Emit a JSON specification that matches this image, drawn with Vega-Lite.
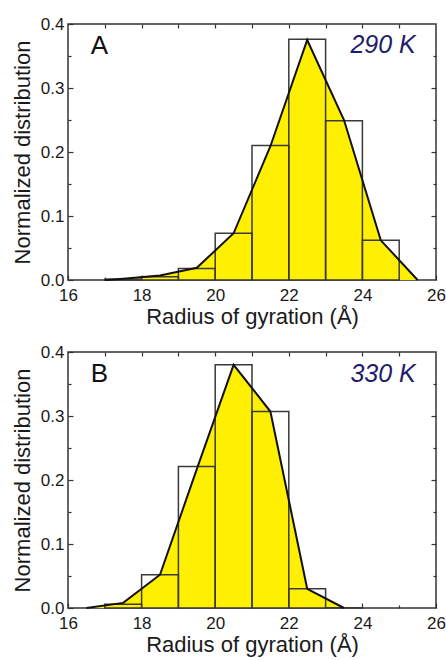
{
  "$schema": "https://vega.github.io/schema/vega-lite/v6.json",
  "padding": {"left": 10, "top": 14, "right": 2, "bottom": 2},
  "background": "white",
  "datasets": {
    "histA": [
      {"x0": 17, "x1": 18, "y": 0.001},
      {"x0": 18, "x1": 19, "y": 0.005},
      {"x0": 19, "x1": 20, "y": 0.018},
      {"x0": 20, "x1": 21, "y": 0.073},
      {"x0": 21, "x1": 22, "y": 0.21},
      {"x0": 22, "x1": 23, "y": 0.376},
      {"x0": 23, "x1": 24, "y": 0.249},
      {"x0": 24, "x1": 25, "y": 0.062}
    ],
    "lineA": [
      {"x": 17, "y": 0},
      {"x": 17.5, "y": 0.002},
      {"x": 18.5, "y": 0.007},
      {"x": 19.5, "y": 0.019},
      {"x": 20.5, "y": 0.073},
      {"x": 21.5, "y": 0.209},
      {"x": 22.5, "y": 0.375},
      {"x": 23.5, "y": 0.25},
      {"x": 24.5, "y": 0.062},
      {"x": 25.5, "y": 0}
    ],
    "histB": [
      {"x0": 17, "x1": 18, "y": 0.006},
      {"x0": 18, "x1": 19, "y": 0.052},
      {"x0": 19, "x1": 20, "y": 0.221},
      {"x0": 20, "x1": 21, "y": 0.38},
      {"x0": 21, "x1": 22, "y": 0.307},
      {"x0": 22, "x1": 23, "y": 0.03},
      {"x0": 23, "x1": 24, "y": 0.0005}
    ],
    "lineB": [
      {"x": 16.5, "y": 0},
      {"x": 17.5, "y": 0.008},
      {"x": 18.5, "y": 0.052},
      {"x": 19.5, "y": 0.217},
      {"x": 20.5, "y": 0.38},
      {"x": 21.5, "y": 0.307},
      {"x": 22.5, "y": 0.03},
      {"x": 23.5, "y": 0}
    ]
  },
  "config": {
    "font": "Liberation Sans",
    "view": {"stroke": "#333333", "strokeWidth": 1.5},
    "axis": {
      "labelFont": "Liberation Sans",
      "labelFontSize": 17,
      "labelColor": "#1a1a1a",
      "labelFlush": false,
      "titleFont": "Liberation Sans",
      "titleFontSize": 22,
      "titleFontWeight": "normal",
      "titleColor": "#1a1a1a",
      "grid": false,
      "domain": false,
      "tickColor": "#333333",
      "tickWidth": 1.2
    }
  },
  "spacing": 14,
  "vconcat": [
    {
      "width": 368,
      "height": 256,
      "resolve": {"axis": {"x": "independent", "y": "independent"}},
      "layer": [
        {
          "data": {"name": "lineA"},
          "mark": {"type": "area", "color": "#FFEF00", "opacity": 1},
          "encoding": {
            "x": {"field": "x", "type": "quantitative", "scale": {"domain": [16, 26], "nice": false},
                  "axis": {"orient": "bottom", "values": [16, 18, 20, 22, 24, 26], "tickSize": -5, "labelPadding": 12, "title": "Radius of gyration (Å)", "titlePadding": 3}},
            "y": {"field": "y", "type": "quantitative", "scale": {"domain": [0, 0.4], "nice": false},
                  "axis": {"orient": "left", "values": [0, 0.1, 0.2, 0.3, 0.4], "format": ".1f", "tickSize": -5, "labelPadding": 9, "title": "Normalized distribution", "titlePadding": 6}}
          }
        },
        {
          "data": {"name": "histA"},
          "mark": {"type": "rect", "filled": false, "color": "#3a3a3a", "strokeWidth": 1.5},
          "encoding": {
            "x": {"field": "x0", "type": "quantitative", "scale": {"domain": [16, 26], "nice": false},
                  "axis": {"orient": "bottom", "values": [17, 19, 21, 23, 25], "tickSize": -3, "labels": false, "title": null}},
            "x2": {"field": "x1"},
            "y": {"field": "y", "type": "quantitative", "scale": {"domain": [0, 0.4], "nice": false},
                  "axis": {"orient": "left", "values": [0.05, 0.15, 0.25, 0.35], "tickSize": -3, "labels": false, "title": null}},
            "y2": {"datum": 0}
          }
        },
        {
          "data": {"name": "lineA"},
          "mark": {"type": "line", "color": "#111111", "strokeWidth": 2},
          "encoding": {
            "x": {"field": "x", "type": "quantitative", "scale": {"domain": [16, 26], "nice": false},
                  "axis": {"orient": "top", "values": [17, 18, 19, 20, 21, 22, 23, 24, 25], "tickSize": -4, "labels": false, "title": null}},
            "y": {"field": "y", "type": "quantitative", "scale": {"domain": [0, 0.4], "nice": false},
                  "axis": {"orient": "right", "values": [0.1, 0.2, 0.3], "tickSize": -5, "labels": false, "title": null}}
          }
        },
        {
          "data": {"values": [{"label": "A"}]},
          "mark": {"type": "text", "fontSize": 26, "align": "left", "baseline": "middle", "font": "Liberation Sans", "color": "#111111"},
          "encoding": {
            "x": {"datum": 16.62, "type": "quantitative", "scale": {"domain": [16, 26], "nice": false}, "axis": null},
            "y": {"datum": 0.365, "type": "quantitative", "scale": {"domain": [0, 0.4], "nice": false},
                  "axis": {"orient": "right", "values": [0.05, 0.15, 0.25, 0.35], "tickSize": -3, "labels": false, "title": null}},
            "text": {"field": "label"}
          }
        },
        {
          "data": {"values": [{"label": "290 K"}]},
          "mark": {"type": "text", "fontSize": 25, "fontStyle": "italic", "align": "right", "baseline": "middle", "font": "Liberation Sans", "color": "#1f1d6b"},
          "encoding": {
            "x": {"datum": 25.45, "type": "quantitative", "scale": {"domain": [16, 26], "nice": false}, "axis": null},
            "y": {"datum": 0.367, "type": "quantitative", "scale": {"domain": [0, 0.4], "nice": false}, "axis": null},
            "text": {"field": "label"}
          }
        }
      ]
    },
    {
      "width": 368,
      "height": 256,
      "resolve": {"axis": {"x": "independent", "y": "independent"}},
      "layer": [
        {
          "data": {"name": "lineB"},
          "mark": {"type": "area", "color": "#FFEF00", "opacity": 1},
          "encoding": {
            "x": {"field": "x", "type": "quantitative", "scale": {"domain": [16, 26], "nice": false},
                  "axis": {"orient": "bottom", "values": [16, 18, 20, 22, 24, 26], "tickSize": -5, "labelPadding": 12, "title": "Radius of gyration (Å)", "titlePadding": 3}},
            "y": {"field": "y", "type": "quantitative", "scale": {"domain": [0, 0.4], "nice": false},
                  "axis": {"orient": "left", "values": [0, 0.1, 0.2, 0.3, 0.4], "format": ".1f", "tickSize": -5, "labelPadding": 9, "title": "Normalized distribution", "titlePadding": 6}}
          }
        },
        {
          "data": {"name": "histB"},
          "mark": {"type": "rect", "filled": false, "color": "#3a3a3a", "strokeWidth": 1.5},
          "encoding": {
            "x": {"field": "x0", "type": "quantitative", "scale": {"domain": [16, 26], "nice": false},
                  "axis": {"orient": "bottom", "values": [17, 19, 21, 23, 25], "tickSize": -3, "labels": false, "title": null}},
            "x2": {"field": "x1"},
            "y": {"field": "y", "type": "quantitative", "scale": {"domain": [0, 0.4], "nice": false},
                  "axis": {"orient": "left", "values": [0.05, 0.15, 0.25, 0.35], "tickSize": -3, "labels": false, "title": null}},
            "y2": {"datum": 0}
          }
        },
        {
          "data": {"name": "lineB"},
          "mark": {"type": "line", "color": "#111111", "strokeWidth": 2},
          "encoding": {
            "x": {"field": "x", "type": "quantitative", "scale": {"domain": [16, 26], "nice": false},
                  "axis": {"orient": "top", "values": [17, 18, 19, 20, 21, 22, 23, 24, 25], "tickSize": -4, "labels": false, "title": null}},
            "y": {"field": "y", "type": "quantitative", "scale": {"domain": [0, 0.4], "nice": false},
                  "axis": {"orient": "right", "values": [0.1, 0.2, 0.3], "tickSize": -5, "labels": false, "title": null}}
          }
        },
        {
          "data": {"values": [{"label": "B"}]},
          "mark": {"type": "text", "fontSize": 26, "align": "left", "baseline": "middle", "font": "Liberation Sans", "color": "#111111"},
          "encoding": {
            "x": {"datum": 16.62, "type": "quantitative", "scale": {"domain": [16, 26], "nice": false}, "axis": null},
            "y": {"datum": 0.365, "type": "quantitative", "scale": {"domain": [0, 0.4], "nice": false},
                  "axis": {"orient": "right", "values": [0.05, 0.15, 0.25, 0.35], "tickSize": -3, "labels": false, "title": null}},
            "text": {"field": "label"}
          }
        },
        {
          "data": {"values": [{"label": "330 K"}]},
          "mark": {"type": "text", "fontSize": 25, "fontStyle": "italic", "align": "right", "baseline": "middle", "font": "Liberation Sans", "color": "#1f1d6b"},
          "encoding": {
            "x": {"datum": 25.45, "type": "quantitative", "scale": {"domain": [16, 26], "nice": false}, "axis": null},
            "y": {"datum": 0.366, "type": "quantitative", "scale": {"domain": [0, 0.4], "nice": false}, "axis": null},
            "text": {"field": "label"}
          }
        }
      ]
    }
  ]
}
